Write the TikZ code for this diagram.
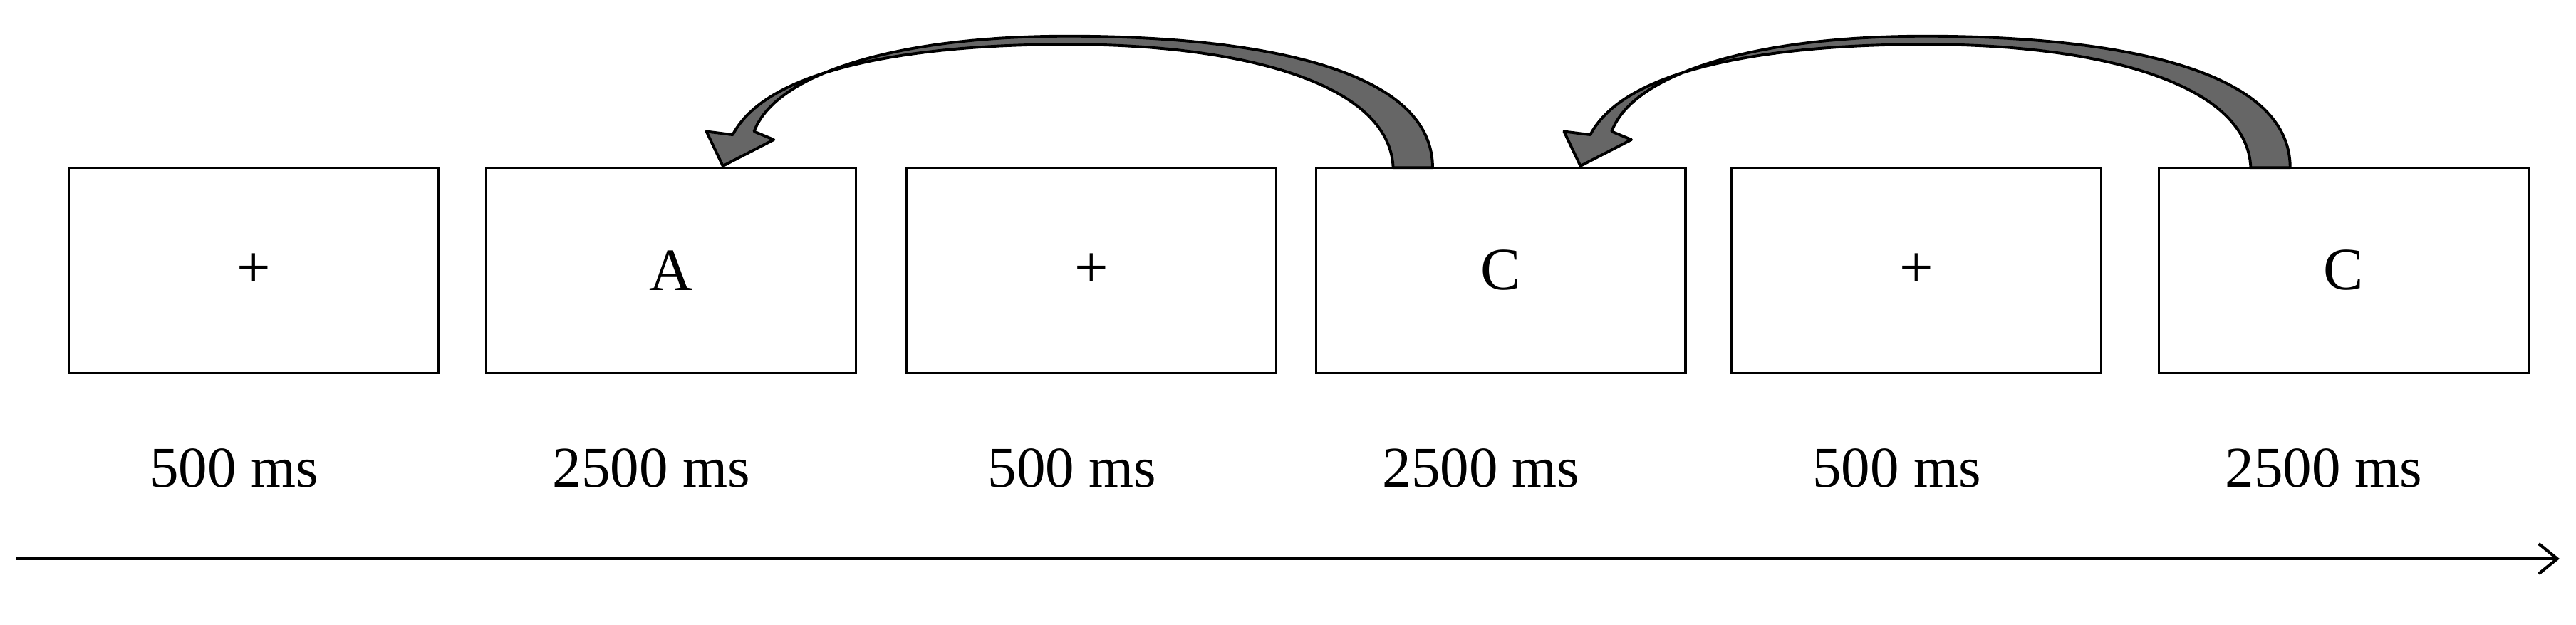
\documentclass[tikz,border=0pt]{standalone}
\usepackage{fontspec}
\setmainfont{Liberation Serif}
\usetikzlibrary{arrows.meta}
\begin{document}
\begin{tikzpicture}[x=0.05cm,y=-0.05cm,
  frame/.style={draw,line width=2pt,minimum width=11.25cm,minimum height=6.25cm,inner sep=0pt,font=\fontsize{52}{56}\selectfont},
  lbl/.style={font=\fontsize{50}{54}\selectfont},
  bigarrow/.style={fill=black!60,draw=black,line width=2.4pt,line join=round}]
\useasboundingbox (0,0) rectangle (1568,380);
\foreach \n/\x/\t/\d in {a/154.5/+/500 ms,b/408.5/A/2500 ms,c/664.5/+/500 ms,d/913.5/C/2500 ms,e/1166.5/+/500 ms,f/1426.5/C/2500 ms}{
  \node[frame] (\n) at (\x,164.5) {\t};
  \node[lbl] (\n l) at (\x-12,285) {\d};
}
\coordinate (s) at (10,340);
\coordinate (t) at (1558,340);
\draw[line width=2.6pt,-{Straight Barb[length=16pt,width=26pt,line width=2.6pt]}] (s) -- (t);
\foreach \dx in {0,522}{
\begin{scope}[xshift=\dx*0.05cm]
\draw[bigarrow] (872,102) .. controls (872,40) and (760,22) .. (650,22)
  .. controls (545,22) and (472,45) .. (459,80) -- (471,85) -- (440,101) -- (430,80) -- (446,82)
  .. controls (468,40) and (560,27) .. (650,27) .. controls (760,27) and (846,52) .. (848,102) -- cycle;
\end{scope}}
\end{tikzpicture}
\end{document}
